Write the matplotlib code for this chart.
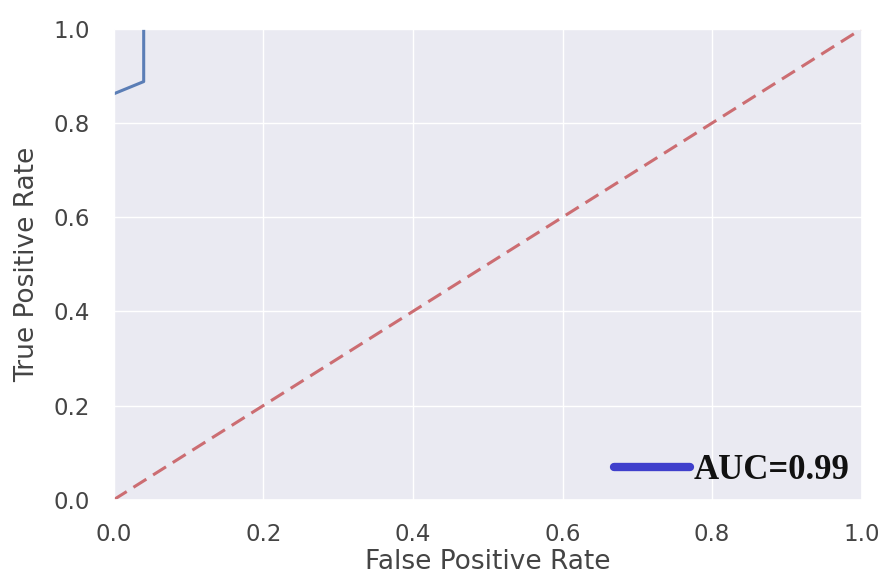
import matplotlib
matplotlib.use("Agg")
import matplotlib.pyplot as plt
import seaborn as sns

sns.set_theme(style="darkgrid")
plt.rcParams['font.family'] = ['DejaVu Sans']

fpr = [0.0, 0.04, 0.04]
tpr = [0.862, 0.888, 1.0]
diag = [0.0, 1.0]
auc_label = "AUC=0.99"

fig = plt.figure(figsize=(8.82, 5.77), dpi=100)
ax = fig.add_axes([0.129, 0.134, 0.848, 0.816])
ax.plot(fpr, tpr, color="#4C72B0", lw=2.2, alpha=0.9)
ax.plot(diag, diag, color="#CC6D72", ls=(0, (5, 2.6)), lw=2.2)
ax.set_xlim(0, 1)
ax.set_ylim(0, 1)
ax.set_xlabel("False Positive Rate", fontsize=19, color="#444444", labelpad=2)
ax.set_ylabel("True Positive Rate", fontsize=19, color="#444444", labelpad=10)
ax.tick_params(labelsize=16.5, colors="#444444", pad=11)

h, = ax.plot([], [], color="#3F3FCC", lw=6, solid_capstyle="round")
ax.legend([h], [auc_label], loc="center right", bbox_to_anchor=(0.984, 0.062),
          frameon=False, borderpad=0, borderaxespad=0,
          prop={"family": "Liberation Serif", "weight": "bold", "size": 25},
          handlelength=2.2, handletextpad=0.1, labelcolor="#111111")

fig.savefig("out.png", dpi=100)
